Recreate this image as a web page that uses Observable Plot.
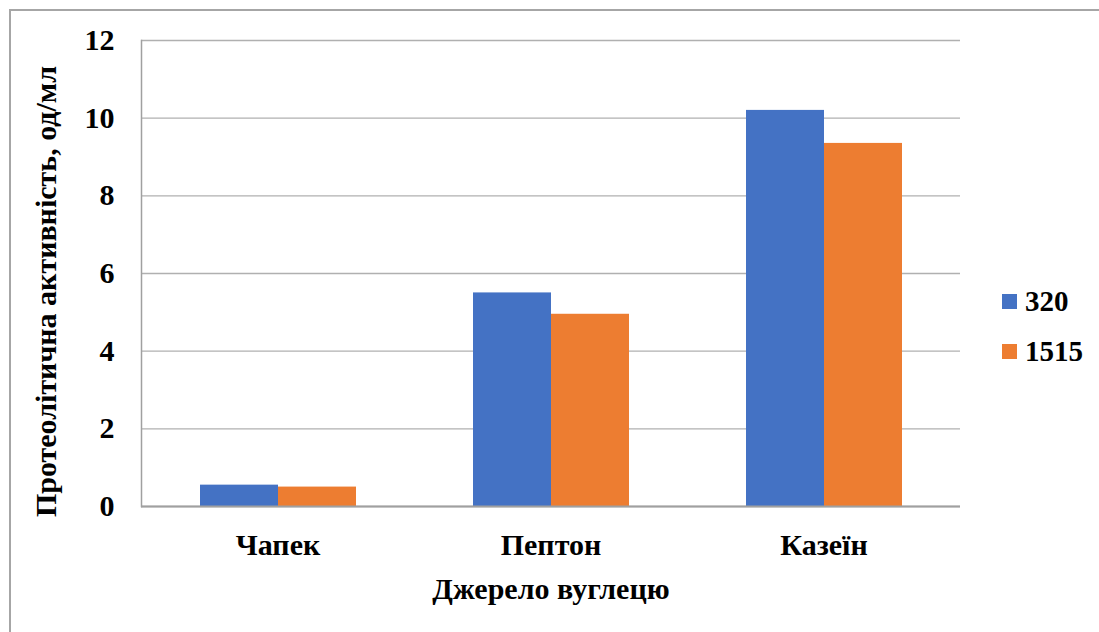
<!DOCTYPE html>
<html>
<head>
<meta charset="utf-8">
<script src="https://cdn.jsdelivr.net/npm/d3@7"></script>
<script src="https://cdn.jsdelivr.net/npm/@observablehq/plot@0.6"></script>
<style>
  html, body { margin: 0; padding: 0; background: #fff; }
  #wrap { position: relative; width: 1099px; height: 632px; overflow: hidden; }
  #border { position: absolute; left: 9px; top: 9px; width: 1200px; height: 800px; border: 2px solid #a6a6a6; box-sizing: border-box; }
  #chart { position: absolute; left: 0; top: 0; }
  .legend { position: absolute; left: 1002px; font-family: "Liberation Serif", serif; font-weight: bold; font-size: 29px; color: #000; display: flex; align-items: center; }
  .legend .sw { width: 15px; height: 15px; margin-right: 8px; }
</style>
</head>
<body>
<div id="wrap">
  <div id="border"></div>
  <div id="chart"></div>
  <div id="legend"></div>
</div>
<script>
const categories = ["Чапек", "Пептон", "Казеїн"];
const series = ["320", "1515"];
const values320 = [0.55, 5.5, 10.2];
const values1515 = [0.5, 4.95, 9.35];
const yTicks = [0, 2, 4, 6, 8, 10, 12];
const colors = ["#4472C4", "#ED7D31"];
const xTitle = "Джерело вуглецю";
const yTitle = "Протеолітична активність, од/мл";

const rows = categories.flatMap((c, i) => [
  {cat: c, s: series[0], v: values320[i]},
  {cat: c, s: series[1], v: values1515[i]}
]);

const chart = Plot.plot({
  width: 1099,
  height: 632,
  marginLeft: 140,
  marginRight: 139,
  marginTop: 40,
  marginBottom: 126,
  style: {fontFamily: "Liberation Serif", fontWeight: "bold", fontSize: "30px", color: "#000", background: "transparent"},
  fx: {domain: categories, padding: 0},
  x: {domain: series, paddingInner: 0, paddingOuter: 0.75, axis: null},
  y: {domain: [0, 12]},
  color: {domain: series, range: colors},
  marks: [
    Plot.gridY(yTicks, {stroke: "#b0b0b0", strokeOpacity: 1, strokeWidth: 1.3}),
    Plot.barY(rows, {fx: "cat", x: "s", y: "v", fill: "s", insetLeft: 0, insetRight: 0}),
    Plot.ruleY([0], {stroke: "#a0a0a0", strokeWidth: 2}),
    Plot.frame({anchor: "left", facetAnchor: "left", stroke: "#a0a0a0", strokeWidth: 1.5}),
    Plot.axisY(yTicks, {anchor: "left", tickSize: 0, tickPadding: 27, fill: "#000", fontSize: 30, label: null}),
    Plot.text([yTitle], {frameAnchor: "left", facetAnchor: "left", textAnchor: "middle", lineAnchor: "middle", rotate: -90, dx: -95, dy: 18, fill: "#000", fontSize: 30, fontWeight: "bold"}),
    Plot.axisFx({anchor: "bottom", tickSize: 0, tickPadding: 27, fill: "#000", fontSize: 30, label: xTitle, labelAnchor: "center", labelOffset: 92, labelArrow: "none"})
  ]
});
document.getElementById("chart").appendChild(chart);

const legend = document.getElementById("legend");
const legendTops = [285, 335];
series.forEach((s, i) => {
  const d = document.createElement("div");
  d.className = "legend";
  d.style.top = legendTops[i] + "px";
  d.innerHTML = `<span class="sw" style="background:${colors[i]}"></span><span>${s}</span>`;
  legend.appendChild(d);
});
</script>
</body>
</html>
